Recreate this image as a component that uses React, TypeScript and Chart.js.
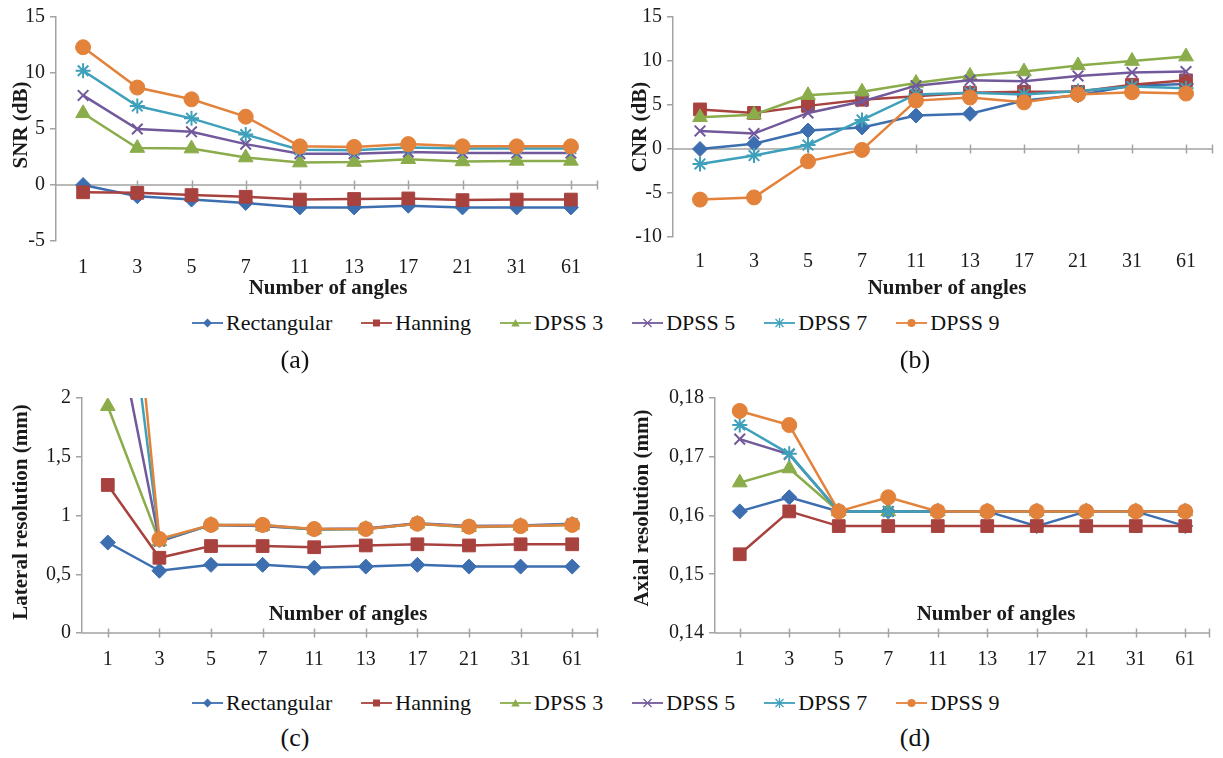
import React, { useEffect, useRef } from 'react';
import { Chart, registerables } from 'chart.js';

Chart.register(...registerables);

// ---------- data ----------
const angles = ['1', '3', '5', '7', '11', '13', '17', '21', '31', '61'];
const seriesNames = ['Rectangular', 'Hanning', 'DPSS 3', 'DPSS 5', 'DPSS 7', 'DPSS 9'];

// (a) SNR (dB)
const snrRectangular = [0, -1.0, -1.3, -1.6, -2.0, -2.0, -1.85, -2.0, -2.0, -2.0];
const snrHanning = [-0.65, -0.7, -0.9, -1.05, -1.3, -1.25, -1.2, -1.35, -1.3, -1.3];
const snrDpss3 = [6.4, 3.3, 3.25, 2.45, 2.0, 2.05, 2.3, 2.1, 2.15, 2.15];
const snrDpss5 = [8.0, 5.0, 4.75, 3.65, 2.8, 2.8, 2.95, 2.85, 2.85, 2.85];
const snrDpss7 = [10.2, 7.05, 5.95, 4.5, 3.15, 3.1, 3.35, 3.25, 3.25, 3.25];
const snrDpss9 = [12.3, 8.7, 7.65, 6.1, 3.45, 3.4, 3.65, 3.45, 3.45, 3.45];

// (b) CNR (dB)
const cnrRectangular = [0, 0.6, 2.1, 2.45, 3.8, 4.0, 5.5, 6.1, 7.2, 7.4];
const cnrHanning = [4.5, 4.1, 4.9, 5.6, 6.0, 6.4, 6.5, 6.5, 7.3, 7.8];
const cnrDpss3 = [3.6, 3.9, 6.1, 6.5, 7.5, 8.3, 8.8, 9.5, 10.0, 10.5];
const cnrDpss5 = [2.05, 1.75, 4.1, 5.4, 7.2, 7.8, 7.7, 8.3, 8.7, 8.8];
const cnrDpss7 = [-1.7, -0.75, 0.45, 3.3, 6.2, 6.4, 6.2, 6.6, 7.1, 6.9];
const cnrDpss9 = [-5.75, -5.5, -1.4, -0.1, 5.5, 5.85, 5.3, 6.2, 6.45, 6.3];

// (c) Lateral resolution (mm)
const latRectangular = [0.77, 0.53, 0.58, 0.58, 0.555, 0.565, 0.58, 0.565, 0.565, 0.565];
const latHanning = [1.26, 0.64, 0.74, 0.74, 0.73, 0.745, 0.755, 0.745, 0.755, 0.755];
const latDpss3 = [1.93, 0.78, 0.92, 0.91, 0.88, 0.885, 0.93, 0.9, 0.91, 0.92];
const latDpss5 = [3.0, 0.78, 0.92, 0.91, 0.885, 0.89, 0.935, 0.91, 0.915, 0.93];
const latDpss7 = [4.3, 0.79, 0.92, 0.92, 0.88, 0.885, 0.93, 0.905, 0.91, 0.925];
const latDpss9 = [5.3, 0.8, 0.92, 0.92, 0.885, 0.885, 0.93, 0.905, 0.91, 0.92];

// (d) Axial resolution (mm)
const axRectangular = [0.1607, 0.1631, 0.1607, 0.1607, 0.1607, 0.1607, 0.1582, 0.1607, 0.1607, 0.1582];
const axHanning = [0.1534, 0.1607, 0.1582, 0.1582, 0.1582, 0.1582, 0.1582, 0.1582, 0.1582, 0.1582];
const axDpss3 = [0.1656, 0.168, 0.1607, 0.1607, 0.1607, 0.1607, 0.1607, 0.1607, 0.1607, 0.1607];
const axDpss5 = [0.173, 0.1704, 0.1607, 0.1607, 0.1607, 0.1607, 0.1607, 0.1607, 0.1607, 0.1607];
const axDpss7 = [0.1754, 0.1705, 0.1607, 0.1607, 0.1607, 0.1607, 0.1607, 0.1607, 0.1607, 0.1607];
const axDpss9 = [0.1778, 0.1754, 0.1607, 0.1631, 0.1607, 0.1607, 0.1607, 0.1607, 0.1607, 0.1607];

// ---------- styles ----------
const colors = ['#3D6FB0', '#A8423F', '#8BAC4A', '#72599B', '#3EA0BA', '#E3823A'];
const pointStyles = ['rectRot', 'rect', 'triangle', 'crossRot', 'star', 'circle'];
const pointRadii = [7.5, 9, 8.5, 7.5, 7.5, 7.5];
const AXIS_GRAY = '#A3A3A3';
const SERIF = "'Liberation Serif', 'Times New Roman', serif";

function buildDatasets(values: number[][]) {
  return values.map((data, i) => ({
    label: seriesNames[i],
    data,
    borderColor: colors[i],
    backgroundColor: colors[i],
    borderWidth: 2.5,
    tension: 0,
    pointStyle: pointStyles[i],
    pointRadius: pointRadii[i],
    pointHoverRadius: pointRadii[i],
    pointBackgroundColor: colors[i],
    pointBorderColor: colors[i],
    pointBorderWidth: i === 3 || i === 4 ? 2 : 1,
    order: values.length - i,
  }));
}

const decorPlugin = {
  id: 'panelDecor',
  beforeDatasetsDraw(chart: any, _args: any, opts: any) {
    const { ctx, chartArea, scales } = chart;
    const xs = scales.x;
    const yPix = scales.y.getPixelForValue(opts.axisValue);
    ctx.save();
    ctx.strokeStyle = AXIS_GRAY;
    ctx.lineWidth = 1.5;
    ctx.beginPath();
    ctx.moveTo(chartArea.left, yPix);
    ctx.lineTo(chartArea.right, yPix);
    for (let i = 0; i < xs.ticks.length; i++) {
      const px = Math.round(xs.getPixelForTick(i)) + 0.5;
      ctx.moveTo(px, yPix - 4.5);
      ctx.lineTo(px, yPix + 4.5);
    }
    ctx.moveTo(chartArea.right - 0.5, yPix - 4.5);
    ctx.lineTo(chartArea.right - 0.5, yPix + 4.5);
    ctx.stroke();
    ctx.restore();
  },
  afterDraw(chart: any, _args: any, opts: any) {
    const { ctx } = chart;
    ctx.save();
    ctx.fillStyle = '#1a1a1a';
    ctx.font = `bold 21px ${SERIF}`;
    ctx.textAlign = 'center';
    ctx.textBaseline = 'middle';
    ctx.fillText(opts.xTitle, opts.xTitleX, opts.xTitleY);
    ctx.translate(opts.yTitleX, opts.yTitleY);
    ctx.rotate(-Math.PI / 2);
    ctx.fillText(opts.yTitle, 0, 0);
    ctx.restore();
  },
};

type PanelSpec = {
  left: number;
  top: number;
  width: number;
  height: number;
  values: number[][];
  yMin: number;
  yMax: number;
  yStep: number;
  fmt: (v: number) => string;
  axisValue: number;
  pad: { top: number; right: number };
  yAxisWidth: number;
  xAxisHeight: number;
  tickPad: number;
  xTitle: string;
  xTitleX: number;
  xTitleY: number;
  yTitle: string;
  yTitleX: number;
  yTitleY: number;
};

function Panel({ spec }: { spec: PanelSpec }) {
  const ref = useRef<HTMLCanvasElement | null>(null);
  useEffect(() => {
    if (!ref.current) return;
    const chart = new Chart(ref.current, {
      type: 'line',
      data: { labels: angles, datasets: buildDatasets(spec.values) as any },
      options: {
        animation: false,
        responsive: false,
        maintainAspectRatio: false,
        devicePixelRatio: 1,
        layout: { padding: { top: spec.pad.top, right: spec.pad.right, left: 0, bottom: 0 } },
        plugins: {
          legend: { display: false },
          tooltip: { enabled: false },
          panelDecor: {
            axisValue: spec.axisValue,
            xTitle: spec.xTitle,
            xTitleX: spec.xTitleX,
            xTitleY: spec.xTitleY,
            yTitle: spec.yTitle,
            yTitleX: spec.yTitleX,
            yTitleY: spec.yTitleY,
          },
        } as any,
        scales: {
          x: {
            type: 'category',
            offset: true,
            grid: { display: false, drawTicks: false },
            border: { display: false },
            ticks: {
              color: '#1a1a1a',
              font: { family: SERIF, size: 20 },
              padding: spec.tickPad,
              maxRotation: 0,
              autoSkip: false,
            },
            afterFit: (s: any) => {
              s.height = spec.xAxisHeight;
            },
          },
          y: {
            min: spec.yMin,
            max: spec.yMax,
            grid: { drawOnChartArea: false, drawTicks: true, tickLength: 6, color: AXIS_GRAY, lineWidth: 1.5 },
            border: { display: true, color: AXIS_GRAY, width: 1.5 },
            ticks: {
              stepSize: spec.yStep,
              color: '#1a1a1a',
              font: { family: SERIF, size: 20 },
              padding: 5,
              callback: (v: any) => spec.fmt(Number(v)),
            },
            afterFit: (s: any) => {
              s.width = spec.yAxisWidth;
            },
          },
        },
      } as any,
      plugins: [decorPlugin as any],
    });
    return () => chart.destroy();
  }, [spec]);
  return (
    <canvas
      ref={ref}
      width={spec.width}
      height={spec.height}
      style={{ position: 'absolute', left: spec.left, top: spec.top, width: spec.width, height: spec.height }}
    />
  );
}

const intFmt = (v: number) => String(Math.round(v));
const latFmt = (v: number) => (Number.isInteger(v) ? String(v) : v.toFixed(1).replace('.', ','));
const axFmt = (v: number) => v.toFixed(2).replace('.', ',');

const panels: PanelSpec[] = [
  {
    left: 0, top: 0, width: 610, height: 300,
    values: [snrRectangular, snrHanning, snrDpss3, snrDpss5, snrDpss7, snrDpss9],
    yMin: -5, yMax: 15, yStep: 5, fmt: intFmt, axisValue: 0,
    pad: { top: 17, right: 12 }, yAxisWidth: 56, xAxisHeight: 59, tickPad: 15,
    xTitle: 'Number of angles', xTitleX: 328, xTitleY: 289,
    yTitle: 'SNR (dB)', yTitleX: 22, yTitleY: 125,
  },
  {
    left: 612, top: 0, width: 611, height: 300,
    values: [cnrRectangular, cnrHanning, cnrDpss3, cnrDpss5, cnrDpss7, cnrDpss9],
    yMin: -10, yMax: 15, yStep: 5, fmt: intFmt, axisValue: 0,
    pad: { top: 17, right: 6 }, yAxisWidth: 61, xAxisHeight: 63, tickPad: 13,
    xTitle: 'Number of angles', xTitleX: 335, xTitleY: 289,
    yTitle: 'CNR (dB)', yTitleX: 29, yTitleY: 127,
  },
  {
    left: 0, top: 370, width: 610, height: 310,
    values: [latRectangular, latHanning, latDpss3, latDpss5, latDpss7, latDpss9],
    yMin: 0, yMax: 2, yStep: 0.5, fmt: latFmt, axisValue: 0,
    pad: { top: 28, right: 12 }, yAxisWidth: 82, xAxisHeight: 47, tickPad: 15,
    xTitle: 'Number of angles', xTitleX: 348, xTitleY: 245,
    yTitle: 'Lateral resolution (mm)', yTitleX: 22, yTitleY: 142,
  },
  {
    left: 612, top: 370, width: 611, height: 310,
    values: [axRectangular, axHanning, axDpss3, axDpss5, axDpss7, axDpss9],
    yMin: 0.14, yMax: 0.18, yStep: 0.01, fmt: axFmt, axisValue: 0.14,
    pad: { top: 28, right: 13 }, yAxisWidth: 103, xAxisHeight: 47, tickPad: 15,
    xTitle: 'Number of angles', xTitleX: 384, xTitleY: 245,
    yTitle: 'Axial resolution (mm)', yTitleX: 31, yTitleY: 138,
  },
];

function LegendMarker({ style, color }: { style: string; color: string }) {
  const cx = 15.5;
  const cy = 8;
  let shape: React.ReactNode = null;
  if (style === 'rectRot') {
    shape = <polygon points={`${cx - 4.5},${cy} ${cx},${cy - 4.5} ${cx + 4.5},${cy} ${cx},${cy + 4.5}`} fill={color} />;
  } else if (style === 'rect') {
    shape = <rect x={cx - 3.5} y={cy - 3.5} width={7} height={7} fill={color} />;
  } else if (style === 'triangle') {
    shape = <polygon points={`${cx - 4.2},${cy + 3.5} ${cx},${cy - 4} ${cx + 4.2},${cy + 3.5}`} fill={color} />;
  } else if (style === 'crossRot') {
    shape = (
      <g stroke={color} strokeWidth={1.2}>
        <line x1={cx - 4} y1={cy - 4} x2={cx + 4} y2={cy + 4} />
        <line x1={cx - 4} y1={cy + 4} x2={cx + 4} y2={cy - 4} />
      </g>
    );
  } else if (style === 'star') {
    shape = (
      <g stroke={color} strokeWidth={1.2}>
        <line x1={cx - 4} y1={cy - 4} x2={cx + 4} y2={cy + 4} />
        <line x1={cx - 4} y1={cy + 4} x2={cx + 4} y2={cy - 4} />
        <line x1={cx} y1={cy - 5} x2={cx} y2={cy + 5} />
      </g>
    );
  } else {
    shape = <circle cx={cx} cy={cy} r={4} fill={color} />;
  }
  return (
    <svg width={31} height={16} style={{ display: 'block', marginRight: 3 }}>
      <line x1={0} y1={cy} x2={31} y2={cy} stroke={color} strokeWidth={1.8} />
      {shape}
    </svg>
  );
}

function Legend({ top }: { top: number }) {
  return (
    <div style={{ position: 'absolute', left: 192, top, height: 24, display: 'flex', alignItems: 'center' }}>
      {seriesNames.map((name, i) => (
        <div key={name} style={{ display: 'flex', alignItems: 'center', marginRight: 29 }}>
          <LegendMarker style={pointStyles[i]} color={colors[i]} />
          <span style={{ font: `22px ${SERIF}`, lineHeight: '24px', color: '#111', whiteSpace: 'nowrap' }}>{name}</span>
        </div>
      ))}
    </div>
  );
}

function Caption({ text, cx, cy }: { text: string; cx: number; cy: number }) {
  return (
    <div
      style={{
        position: 'absolute',
        left: cx - 40,
        top: cy - 15,
        width: 80,
        height: 30,
        lineHeight: '30px',
        textAlign: 'center',
        font: `26px ${SERIF}`,
        color: '#111',
      }}
    >
      {text}
    </div>
  );
}

export default function App() {
  return (
    <div style={{ position: 'absolute', left: 0, top: 0, width: 1223, height: 758, background: '#fff', overflow: 'hidden' }}>
      {panels.map((p, i) => (
        <Panel key={i} spec={p} />
      ))}
      <Legend top={311} />
      <Legend top={691} />
      <Caption text="(a)" cx={295} cy={360} />
      <Caption text="(b)" cx={915} cy={360} />
      <Caption text="(c)" cx={295} cy={738} />
      <Caption text="(d)" cx={915} cy={738} />
    </div>
  );
}
